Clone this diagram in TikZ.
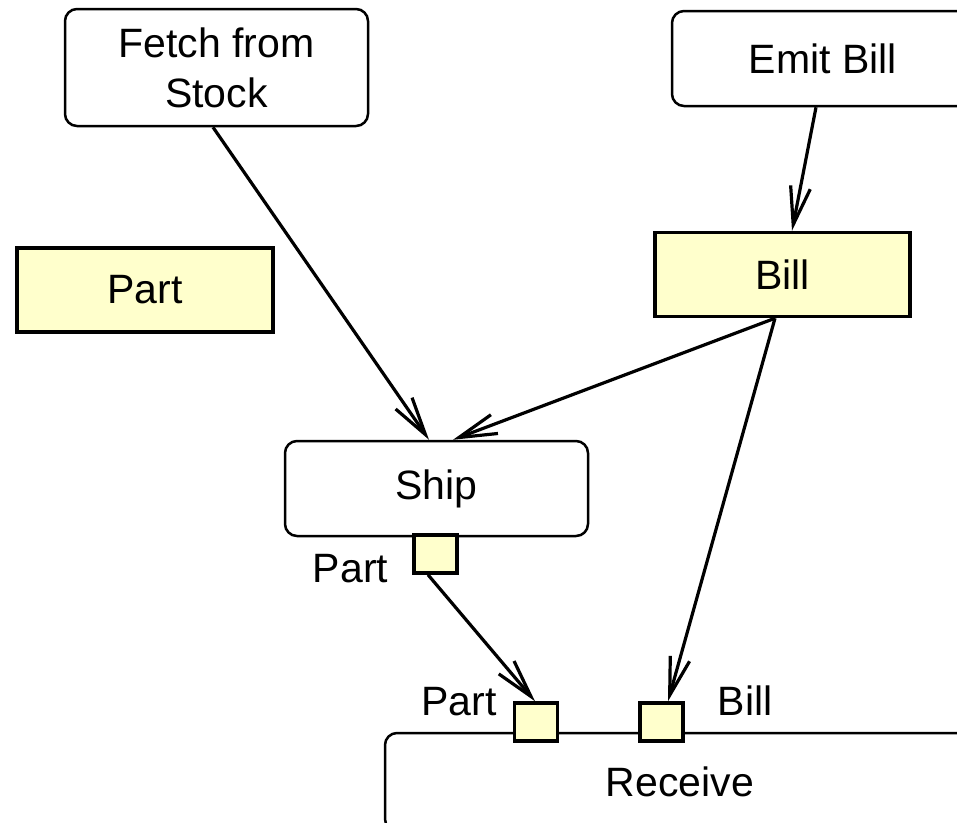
\documentclass[tikz,border=0pt]{standalone}
\usepackage{fontspec}
\setmainfont{Liberation Sans}
\usetikzlibrary{arrows.meta,calc}
\definecolor{objfill}{HTML}{FFFFCC}
\tikzset{
  action/.style={draw, line width=2.5pt, rounded corners=12pt, fill=white, align=center,
    font=\fontsize{41}{50}\selectfont, inner sep=0pt},
  objbox/.style={draw, line width=3.5pt, fill=objfill, inner sep=0pt,
    font=\fontsize{41}{50}\selectfont},
  pinbox/.style={draw, line width=3.5pt, fill=objfill, inner sep=0pt,
    minimum width=43pt, minimum height=38pt},
  lbl/.style={inner sep=0pt, font=\fontsize{41}{50}\selectfont},
  flow/.style={line width=3.2pt, -{Straight Barb[length=38pt,width=20pt,line width=3.2pt]}}
}
\begin{document}
\begin{tikzpicture}[x=1pt,y=-1pt]
\useasboundingbox (0,0) rectangle (957,822);
\clip (0,0) rectangle (957,822);
\fill[white] (0,0) rectangle (957,822);
% actions
\node[action, minimum width=303pt, minimum height=117pt] (fetch) at (216.5,67.5) {Fetch from\\Stock};
\node[action, minimum width=302pt, minimum height=95pt] (emit) at (823,58.5) {Emit Bill};
\node[action, minimum width=303pt, minimum height=95pt] (ship) at (436.5,488.5) {Ship};
\node[action, minimum width=590pt, minimum height=98pt] (receive) at (680,782) {Receive};
% objects
\node[objbox, minimum width=256pt, minimum height=84pt] (part) at (145,290) {Part};
\node[objbox, minimum width=255pt, minimum height=84pt] (bill) at (782.5,274.5) {Bill};
% pins
\node[pinbox] (spin) at (435.5,554) {};
\node[pinbox] (rpin) at (536,722) {};
\node[pinbox] (bpin) at (661.5,722) {};
% pin labels
\node[lbl, anchor=base east] (spinlbl) at ($(spin.west)+(-24,28)$) {Part};
\node[lbl, anchor=base east] (rpinlbl) at ($(rpin.west)+(-16,-7)$) {Part};
\node[lbl, anchor=base west] (bpinlbl) at ($(bpin.east)+(33,-7)$) {Bill};
% flows
\draw[flow] ([xshift=-3.5pt]fetch.south) -- ([xshift=-7.5pt]ship.north);
\draw[flow] ([xshift=-7pt]emit.south) -- ([xshift=9.5pt]bill.north);
\draw[flow] ([xshift=-7.5pt]bill.south) -- ([xshift=16.5pt]ship.north);
\draw[flow] ([xshift=-7.5pt]bill.south) -- ([xshift=6.5pt]bpin.north);
\draw[flow] ([xshift=-7.5pt]spin.south) -- ([xshift=-1pt]rpin.north);
\end{tikzpicture}
\end{document}
